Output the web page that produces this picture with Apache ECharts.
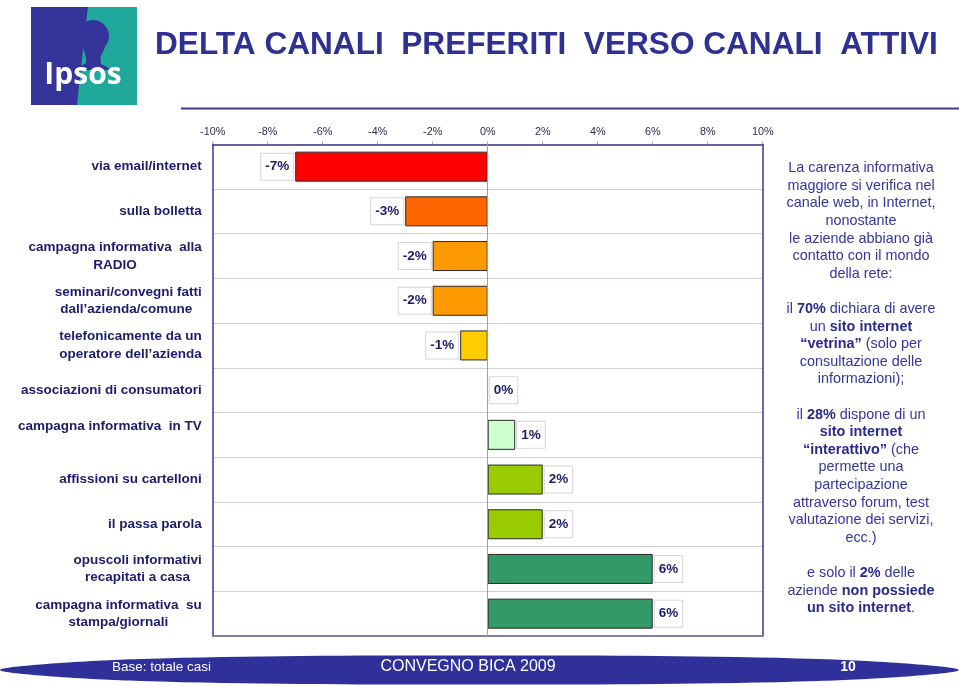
<!DOCTYPE html>
<html>
<head>
<meta charset="utf-8">
<script src="https://cdn.jsdelivr.net/npm/echarts@6/dist/echarts.min.js"></script>
<style>
html,body{margin:0;padding:0;background:#fff;}
#chart{width:959px;height:686px;}
</style>
</head>
<body>
<div id="chart"></div>
<script>
// ---- data ----
const categories = [
  'via email/internet',
  'sulla bolletta',
  'campagna informativa  alla\nRADIO',
  'seminari/convegni fatti\ndall’azienda/comune ',
  'telefonicamente da un\noperatore dell’azienda',
  'associazioni di consumatori',
  'campagna informativa  in TV\n ',
  'affissioni su cartelloni',
  'il passa parola',
  'opuscoli informativi\nrecapitati a casa',
  'campagna informativa  su\nstampa/giornali'
];
const values = [-7, -3, -2, -2, -1, 0, 1, 2, 2, 6, 6];
const axisMin = -10;
const axisMax = 10;
const axisStep = 2;

const titleText = 'DELTA CANALI  PREFERITI  VERSO CANALI  ATTIVI';
const noteLines = [
  '{n|La carenza informativa}',
  '{n|maggiore si verifica nel}',
  '{n|canale web, in Internet,}',
  '{n|nonostante}',
  '{n|le aziende abbiano già}',
  '{n|contatto con il mondo}',
  '{n|della rete:}',
  '{n| }',
  '{n|il }{b|70%}{n| dichiara di avere}',
  '{n|un }{b|sito internet}',
  '{b|“vetrina”}{n| (solo per}',
  '{n|consultazione delle}',
  '{n|informazioni);}',
  '{n| }',
  '{n|il }{b|28%}{n| dispone di un}',
  '{b|sito internet}',
  '{b|“interattivo”}{n| (che}',
  '{n|permette una}',
  '{n|partecipazione}',
  '{n|attraverso forum, test}',
  '{n|valutazione dei servizi,}',
  '{n|ecc.)}',
  '{n| }',
  '{n|e solo il }{b|2%}{n| delle}',
  '{n|aziende }{b|non possiede}',
  '{b|un sito internet}{n|.}'
];
const footerLeft = 'Base: totale casi';
const footerCenter = 'CONVEGNO BICA 2009';
const footerPage = '10';

// ---- styles ----
const barColors = ['#FF0000', '#FF6600', '#FF9900', '#FF9900', '#FFCC00', '#FFFFFF',
                   '#CCFFCC', '#99CC00', '#99CC00', '#339966', '#339966'];
const navy = '#1c1c6a';
const frame = '#3a3a8a';
const FONT = '"Liberation Sans", Arial, sans-serif';

const chart = echarts.init(document.getElementById('chart'), null, {renderer: 'canvas'});

const barData = values.map((v, i) => ({
  value: v,
  itemStyle: {color: barColors[i], borderColor: '#2a2a2a', borderWidth: v === 0 ? 0 : 1},
  label: {position: v < 0 ? 'left' : 'right'}
}));

const option = {
  animation: false,
  backgroundColor: '#ffffff',
  textStyle: {fontFamily: FONT},
  grid: {left: 212.7, right: 196.3, top: 144.3, bottom: 50, containLabel: false},
  xAxis: [
    {
      type: 'value', position: 'top', min: axisMin, max: axisMax, interval: axisStep,
      axisLine: {show: true, lineStyle: {color: frame, width: 1.5}},
      axisTick: {show: true, length: 3, lineStyle: {color: '#b0b0b8'}},
      axisLabel: {formatter: '{value}%', fontSize: 10.8, color: '#2b2b50', margin: 7, fontFamily: FONT},
      splitLine: {show: false}
    },
    {
      type: 'value', position: 'bottom', min: axisMin, max: axisMax, interval: axisStep,
      axisLine: {show: true, onZero: false, lineStyle: {color: '#8080a8', width: 2}},
      axisTick: {show: false}, axisLabel: {show: false}, splitLine: {show: false}
    }
  ],
  yAxis: [
    {
      type: 'category', data: categories, inverse: true,
      axisLine: {show: true, onZero: false, lineStyle: {color: frame, width: 1.5}},
      axisTick: {show: false},
      splitLine: {show: true, lineStyle: {color: '#cfd0dc', width: 1}},
      axisLabel: {
        align: 'right', margin: 11,
        formatter: v => v.split('\n').map(l => '{c|' + l + '}').join('\n'),
        rich: {c: {align: 'center', fontWeight: 'bold', fontSize: 13.5, lineHeight: 17.6, color: navy, fontFamily: FONT}}
      }
    },
    {
      type: 'category', data: categories, inverse: true, position: 'right',
      axisLine: {show: true, onZero: false, lineStyle: {color: frame, width: 1.5}},
      axisTick: {show: false}, axisLabel: {show: false}, splitLine: {show: false}
    }
  ],
  series: [{
    type: 'bar', xAxisIndex: 0, yAxisIndex: 0,
    data: barData, barWidth: 30,
    label: {
      show: true, formatter: '{c}%', distance: 2,
      backgroundColor: '#ffffff', borderColor: '#d6d6d6', borderWidth: 1,
      padding: [6, 4, 6, 4], fontWeight: 'bold', fontSize: 13.5, color: navy, fontFamily: FONT
    },
    markLine: {
      silent: true, symbol: 'none', label: {show: false},
      lineStyle: {color: '#a0a0a8', width: 1, type: 'solid'},
      data: [{xAxis: 0}]
    }
  }],
  graphic: [
    // logo
    {type: 'rect', shape: {x: 31, y: 7, width: 106, height: 98}, style: {fill: '#34349a'}},
    {type: 'polygon', shape: {points: [[88, 7], [137, 7], [137, 105], [77, 105], [79, 85], [82, 60], [85, 30]]}, style: {fill: '#1fa99c'}},
    {type: 'circle', shape: {cx: 93, cy: 36, r: 16}, style: {fill: '#34349a'}},
    {type: 'polygon', shape: {points: [[80, 40], [84, 50], [86, 58], [100, 58], [104, 50], [106, 42], [102, 32]]}, style: {fill: '#34349a'}},
    {type: 'polygon', shape: {points: [[86, 55], [100, 55], [101, 64], [112, 70], [74, 70], [86, 63]]}, style: {fill: '#34349a'}},
    {type: 'text', style: {text: 'Ipsos', x: 83, y: 75, align: 'center', verticalAlign: 'middle', fill: '#ffffff', font: 'bold 30px "Open Sans", sans-serif'}},
    // title
    {type: 'text', style: {text: titleText, x: 155, y: 45, align: 'left', verticalAlign: 'middle', fill: '#2e3192', font: 'bold 31.6px ' + FONT}},
    {type: 'rect', shape: {x: 181, y: 107.5, width: 778, height: 2}, style: {fill: '#3a3a8f'}},
    // side notes
    {type: 'text', style: {
      text: noteLines.join('\n'), x: 861, y: 159.4, align: 'center', verticalAlign: 'top',
      rich: {
        n: {align: 'center', fontSize: 14.4, lineHeight: 17.6, fill: '#35359c', color: '#35359c', fontFamily: FONT},
        b: {align: 'center', fontSize: 14.4, lineHeight: 17.6, fill: '#2a2a8a', color: '#2a2a8a', fontWeight: 'bold', fontFamily: FONT}
      }
    }},
    // footer
    {type: 'polygon', shape: {smooth: 0.35, points: [[0, 670], [140, 659], [479, 655.5], [819, 659], [959, 670], [819, 681], [479, 684.5], [140, 681]]}, style: {fill: '#30309a'}},
    {type: 'text', style: {text: footerLeft, x: 112, y: 667, align: 'left', verticalAlign: 'middle', fill: '#ffffff', font: '13.5px ' + FONT}},
    {type: 'text', style: {text: footerCenter, x: 468, y: 667, align: 'center', verticalAlign: 'middle', fill: '#ffffff', font: '16px ' + FONT}},
    {type: 'text', style: {text: footerPage, x: 848, y: 667, align: 'center', verticalAlign: 'middle', fill: '#ffffff', font: 'bold 14px ' + FONT}}
  ]
};
chart.setOption(option);
</script>
</body>
</html>
